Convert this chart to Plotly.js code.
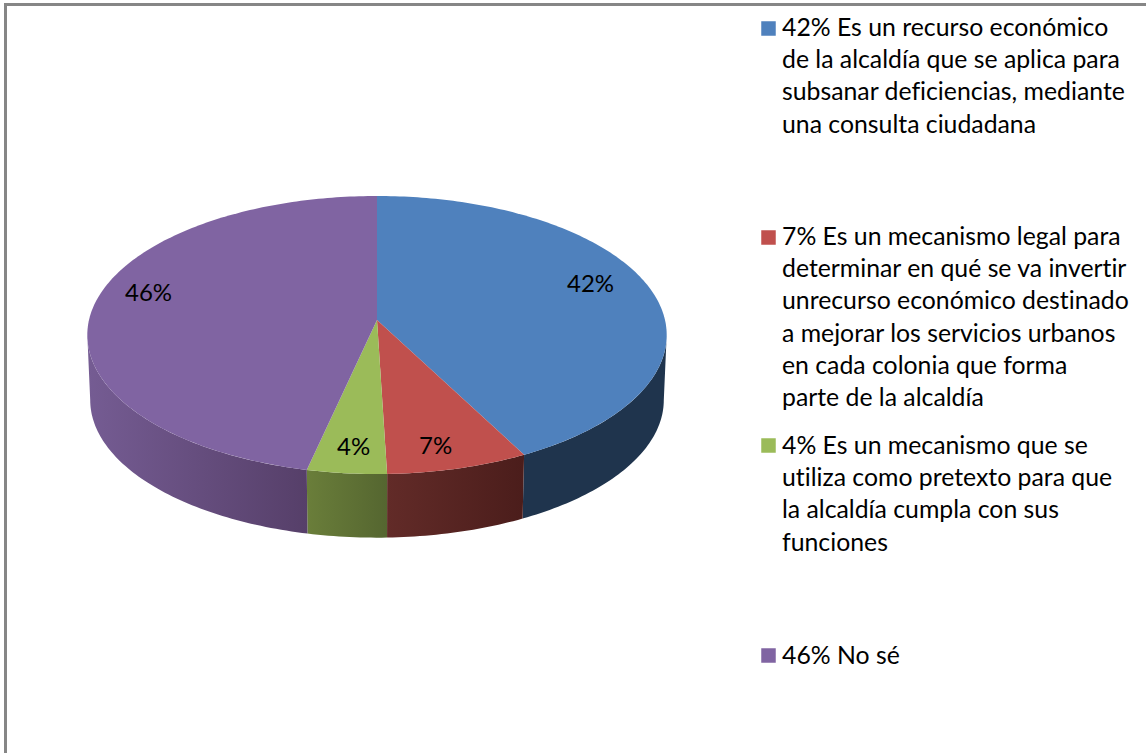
<!DOCTYPE html>
<html><head><meta charset="utf-8">
<script src="https://cdn.plot.ly/plotly-3.0.1.min.js"></script>
<style>html,body{margin:0;padding:0;background:#fff;overflow:hidden}
svg text{font-variant-ligatures:none;font-feature-settings:"liga" 0,"clig" 0}</style></head>
<body><div id="chart" style="width:1146px;height:753px"></div>
<script>
// Data
const categories = [
  "42% Es un recurso económico<br>de la alcaldía que se aplica para<br>subsanar deficiencias, mediante<br>una consulta ciudadana",
  "7% Es un mecanismo legal para<br>determinar en qué se va invertir<br>unrecurso económico destinado<br>a mejorar los servicios urbanos<br>en cada colonia que forma<br>parte de la alcaldía",
  "4% Es un mecanismo que se<br>utiliza como pretexto para que<br>la alcaldía cumpla con sus<br>funciones",
  "46% No sé"
];
const values = [42.36, 7.14, 4, 46.5];
const sliceLabels = ["42%", "7%", "4%", "46%"];
const topColors = ["#4F81BD", "#C0504D", "#9BBB59", "#8064A2"];
const wallLeft  = ["#1F344D", "#622B28", "#6A7E3A", "#755C93"];
const wallRight = ["#1F344D", "#4B1D1B", "#556630", "#563F69"];
// Layout constants (pixels)
const legendRowY = [28.5, 237.5, 445.5, 655.5];
const legendTextY = [11, 220, 428.5, 638.5];
const labelShift = [[0,-13],[-3,12],[0,9],[-7,-17]];
const CX = 377, CY = 320, R = 288, S = 137.4, K = 0.108, DEPTH = 65, BOTTOM_SCALE = 0.99;

function project(tDeg, r, scale, dy) {
  const t = tDeg * Math.PI / 180, u = r * Math.sin(t), v = r * Math.cos(t), w = 1 + K * v;
  const base = { x: R * u / w, y: -S * v / w };
  const ecy = S * K / (1 - K * K);            // screen-centre of the ellipse below apex
  return { x: CX + base.x * scale, y: CY + ecy + (base.y - ecy) * scale + dy };
}
function arc(a, b, scale, dy) {
  const n = Math.max(2, Math.ceil(Math.abs(b - a))), out = [];
  for (let i = 0; i <= n; i++) out.push(project(a + (b - a) * i / n, 1, scale, dy));
  return out;
}
const total = values.reduce((a, b) => a + b, 0);
const silhouette = Math.acos(-K) * 180 / Math.PI;
const traces = [];
let start = 0;
const tops = [], annotations = [];
values.forEach((val, i) => {
  const a = start * 360 / total, b = (start + val) * 360 / total;
  start += val;
  // side wall
  const wa = Math.max(a, silhouette), wb = Math.min(b, 360 - silhouette);
  if (wb > wa) {
    const pts = arc(wa, wb, 1, 0).concat(arc(wb, wa, BOTTOM_SCALE, DEPTH));
    traces.push({
      type: "scatter", mode: "none", fill: "toself", hoverinfo: "skip", showlegend: false,
      x: pts.map(p => p.x).concat(pts[0].x), y: pts.map(p => p.y).concat(pts[0].y),
      fillcolor: wallLeft[i],
      fillgradient: { type: "horizontal", colorscale: [[0, wallLeft[i]], [1, wallRight[i]]] }
    });
  }
  // top face
  const face = [project(0, 0, 1, 0)].concat(arc(a, b, 1, 0));
  tops.push({
    type: "scatter", mode: "none", fill: "toself", fillcolor: topColors[i], hoverinfo: "skip", showlegend: false,
    x: face.map(p => p.x).concat(face[0].x), y: face.map(p => p.y).concat(face[0].y)
  });
  // slice label
  const lp = project((a + b) / 2, 0.78, 1, 0);
  annotations.push({
    x: lp.x, y: lp.y, xref: "x", yref: "y", text: sliceLabels[i], showarrow: false,
    xshift: labelShift[i][0], yshift: -labelShift[i][1],
    font: { family: "Lato, Carlito, sans-serif", size: 24, color: "#000" }
  });
  // legend text
  annotations.push({
    x: 781, y: legendTextY[i], xref: "x", yref: "y", xanchor: "left", yanchor: "top", align: "left",
    text: categories[i], showarrow: false, borderpad: 0,
    font: { family: "Lato, Carlito, sans-serif", size: 24.8, color: "#000" }
  });
});
// legend swatches
const swatches = {
  type: "scatter", mode: "markers", hoverinfo: "skip", showlegend: false,
  x: legendRowY.map(() => 768.5), y: legendRowY,
  marker: { symbol: "square", size: 14.5, color: topColors, line: { width: 0 } }
};
const layout = {
  width: 1146, height: 753, margin: { l: 0, r: 0, t: 0, b: 0 },
  paper_bgcolor: "#fff", plot_bgcolor: "#fff", showlegend: false,
  xaxis: { range: [0, 1146], visible: false, fixedrange: true },
  yaxis: { range: [753, 0], visible: false, fixedrange: true },
  annotations,
  shapes: [{ type: "rect", xref: "x", yref: "y", x0: 5.5, y0: 4.5, x1: 1160, y1: 770,
             line: { color: "#868686", width: 3 }, fillcolor: "rgba(0,0,0,0)" }]
};
Plotly.newPlot("chart", traces.concat(tops, [swatches]), layout, { displayModeBar: false, staticPlot: true });
</script></body></html>
